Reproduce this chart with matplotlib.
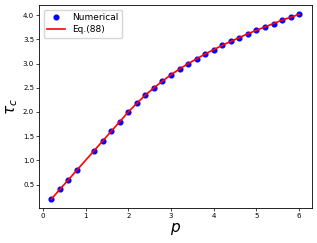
import matplotlib
matplotlib.use("Agg")
import matplotlib.pyplot as plt

# Numerical points (p = 1.0 is absent in the data)
p_num = [0.2, 0.4, 0.6, 0.8, 1.2, 1.4, 1.6, 1.8, 2.0, 2.2, 2.4, 2.6, 2.8,
         3.0, 3.2, 3.4, 3.6, 3.8, 4.0, 4.2, 4.4, 4.6, 4.8, 5.0, 5.2, 5.4,
         5.6, 5.8, 6.0]
tau_num = [0.2, 0.4, 0.6, 0.8, 1.2, 1.4, 1.6, 1.8, 2.0, 2.18, 2.35, 2.50,
           2.64, 2.77, 2.89, 3.00, 3.10, 3.20, 3.29, 3.38, 3.46, 3.54, 3.62,
           3.69, 3.76, 3.83, 3.90, 3.96, 4.02]

# Eq.(88) curve
p_eq = [0.2, 0.4, 0.6, 0.8, 1.0, 1.2, 1.4, 1.6, 1.8, 2.0, 2.2, 2.4, 2.6,
        2.8, 3.0, 3.2, 3.4, 3.6, 3.8, 4.0, 4.2, 4.4, 4.6, 4.8, 5.0, 5.2,
        5.4, 5.6, 5.8, 6.0]
tau_eq = [0.2, 0.4, 0.6, 0.8, 1.0, 1.2, 1.4, 1.6, 1.8, 2.0, 2.18, 2.35,
          2.50, 2.64, 2.77, 2.89, 3.00, 3.10, 3.20, 3.29, 3.38, 3.46, 3.54,
          3.62, 3.69, 3.76, 3.83, 3.90, 3.96, 4.02]

fig = plt.figure(figsize=(3.17, 2.43), dpi=100)
ax = fig.add_axes([0.123, 0.143, 0.86, 0.836])

ax.plot(p_num, tau_num, 'o', color='blue', markersize=3.4, label='Numerical')
ax.plot(p_eq, tau_eq, '-', color='red', linewidth=1.2, label='Eq.(88)')

ax.set_xticks([0, 1, 2, 3, 4, 5, 6])
ax.set_yticks([0.5, 1.0, 1.5, 2.0, 2.5, 3.0, 3.5, 4.0])
ax.tick_params(labelsize=5, length=2, width=0.5, pad=1.5)
for s in ax.spines.values():
    s.set_linewidth(0.6)

ax.set_xlabel(r'$p$', fontsize=11, labelpad=1)
ax.set_ylabel(r'$\tau_c$', fontsize=11, labelpad=2)
ax.legend(loc='upper left', fontsize=6.5, handlelength=2, borderpad=0.4,
          labelspacing=0.3)

fig.savefig('out.png', dpi=100)
